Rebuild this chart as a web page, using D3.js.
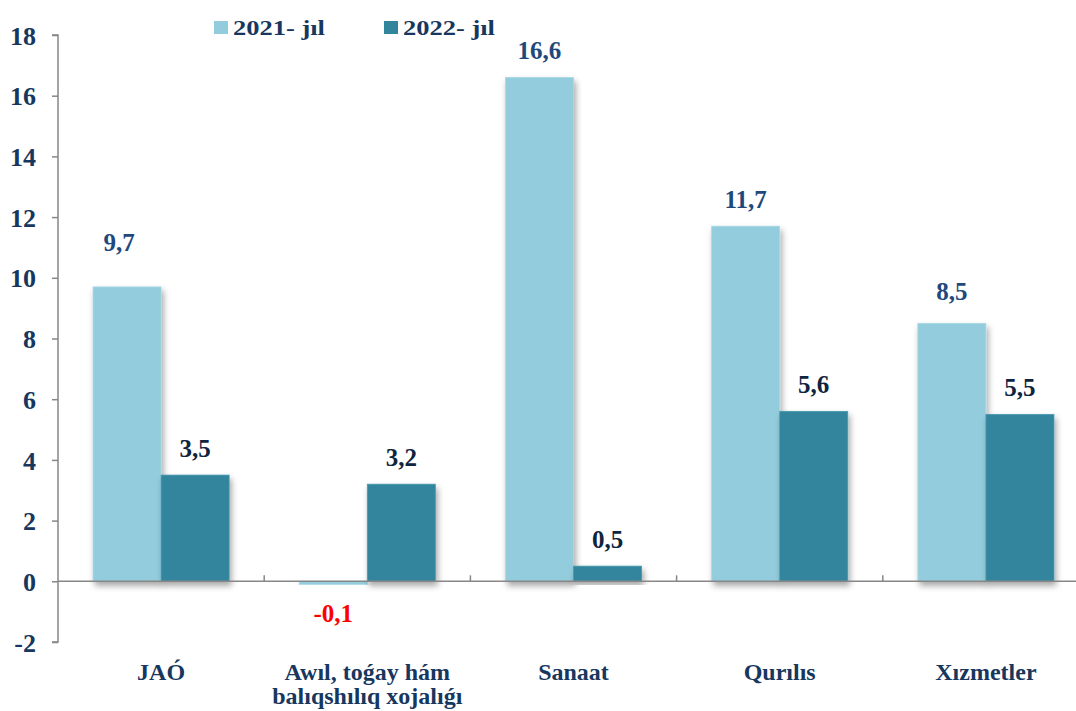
<!DOCTYPE html>
<html>
<head>
<meta charset="utf-8">
<script src="https://cdn.jsdelivr.net/npm/d3@7"></script>
<style>
  html, body { margin: 0; padding: 0; background: #fff; }
  svg { display: block; }
</style>
</head>
<body>
<svg id="chart" width="1076" height="711"></svg>
<script>
// ---- data ----
const categories = ["JAÓ", "Awıl, toǵay hám\nbalıqshılıq xojalıǵı", "Sanaat", "Qurılıs", "Xızmetler"];
const seriesNames = ["2021- jıl", "2022- jıl"];
const values2021 = [9.7, -0.1, 16.6, 11.7, 8.5];
const values2022 = [3.5, 3.2, 0.5, 5.6, 5.5];
const yTicks = [-2, 0, 2, 4, 6, 8, 10, 12, 14, 16, 18];

// ---- styles ----
const FONT = "'Liberation Serif', 'Times New Roman', serif";
const colors = ["#93CDDD", "#31859C"];
const labelColors = ["#1F497D", "#0F243E"];
const axisTextColor = "#17375E";
const axisColor = "#878787";

const svg = d3.select("#chart");
const defs = svg.append("defs");
const f = defs.append("filter").attr("id", "shadow")
  .attr("x", "-20%").attr("y", "-20%").attr("width", "140%").attr("height", "140%");
f.append("feDropShadow").attr("dx", 2).attr("dy", 4).attr("stdDeviation", 3)
  .attr("flood-color", "#000").attr("flood-opacity", 0.35);

function styleText(sel, size, color) {
  return sel.style("font-family", FONT).style("font-weight", "bold")
    .style("font-size", size + "px").attr("fill", color);
}

const plotLeft = 58, plotRight = 1089;
const y = d3.scaleLinear().domain([-2, 18]).range([642, 35]);
const x0 = d3.scaleBand().domain(d3.range(categories.length))
  .range([plotLeft, plotRight]).paddingInner(0.34).paddingOuter(0.17);
const x1 = d3.scaleBand().domain([0, 1]).range([0, x0.bandwidth()]).padding(0);

const data = categories.map((c, i) => ({
  i, cat: c, vals: [values2021[i], values2022[i]]
}));

// bars
const g = svg.append("g");
data.forEach(d => {
  d.vals.forEach((v, s) => {
    g.append("rect")
      .attr("x", x0(d.i) + x1(s))
      .attr("y", y(Math.max(0, v)))
      .attr("width", x1.bandwidth())
      .attr("height", Math.abs(y(v) - y(0)))
      .attr("fill", colors[s])
      .attr("stroke", s === 0 ? "#A9D8E4" : "#4A9AB0")
      .attr("stroke-width", 0.8)
      .attr("filter", "url(#shadow)");
  });
});

// y axis
const yAxis = d3.axisLeft(y).tickValues(yTicks).tickSize(6).tickPadding(16)
  .tickFormat(d => String(d));
const ya = svg.append("g").attr("transform", `translate(${plotLeft},0)`).call(yAxis);
ya.select(".domain").attr("stroke", axisColor).attr("stroke-width", 1.5)
  .attr("d", `M-6,${y(18)}H0V${y(-2)}H-6`);
ya.selectAll(".tick line").attr("stroke", axisColor).attr("stroke-width", 1.5);
styleText(ya.selectAll(".tick text"), 26, axisTextColor).attr("dy", "0.35em");

// x axis line at zero
svg.append("line")
  .attr("x1", plotLeft).attr("x2", 1076)
  .attr("y1", y(0)).attr("y2", y(0))
  .attr("stroke", axisColor).attr("stroke-width", 1.5);
// category boundary ticks
d3.range(1, categories.length).forEach(k => {
  const bx = plotLeft + k * x0.step();
  svg.append("line").attr("x1", bx).attr("x2", bx)
    .attr("y1", y(0)).attr("y2", y(0) - 6)
    .attr("stroke", axisColor).attr("stroke-width", 1.5);
});

// category labels
data.forEach(d => {
  const cx = x0(d.i) + x0.bandwidth() / 2;
  const lines = d.cat.split("\n");
  const t = styleText(svg.append("text").attr("x", cx).attr("y", 680)
    .attr("text-anchor", "middle"), 24, axisTextColor);
  lines.forEach((ln, j) => {
    t.append("tspan").attr("x", cx).attr("dy", j === 0 ? 0 : 24).text(ln);
  });
});

// value labels
const nudge = { "0-0": { dx: -8, dy: -18 }, "4-0": { dx: 0, dy: -5 } };
data.forEach(d => {
  d.vals.forEach((v, s) => {
    const cx = x0(d.i) + x1(s) + x1.bandwidth() / 2;
    const n = nudge[d.i + "-" + s] || { dx: 0, dy: 0 };
    const neg = v < 0;
    styleText(svg.append("text")
      .attr("x", cx + n.dx)
      .attr("y", neg ? y(v) + 38 : y(v) - 18 + n.dy)
      .attr("text-anchor", "middle"), 25, neg ? "#FF0000" : labelColors[s])
      .text(String(v).replace(".", ","));
  });
});

// legend
const legendX = [214, 384];
seriesNames.forEach((name, s) => {
  svg.append("rect").attr("x", legendX[s]).attr("y", 21).attr("width", 14).attr("height", 13)
    .attr("fill", colors[s]);
  styleText(svg.append("text").attr("x", legendX[s] + 19).attr("y", 35), 22, axisTextColor)
    .attr("textLength", 92).attr("lengthAdjust", "spacingAndGlyphs")
    .text(name);
});
</script>
</body>
</html>
